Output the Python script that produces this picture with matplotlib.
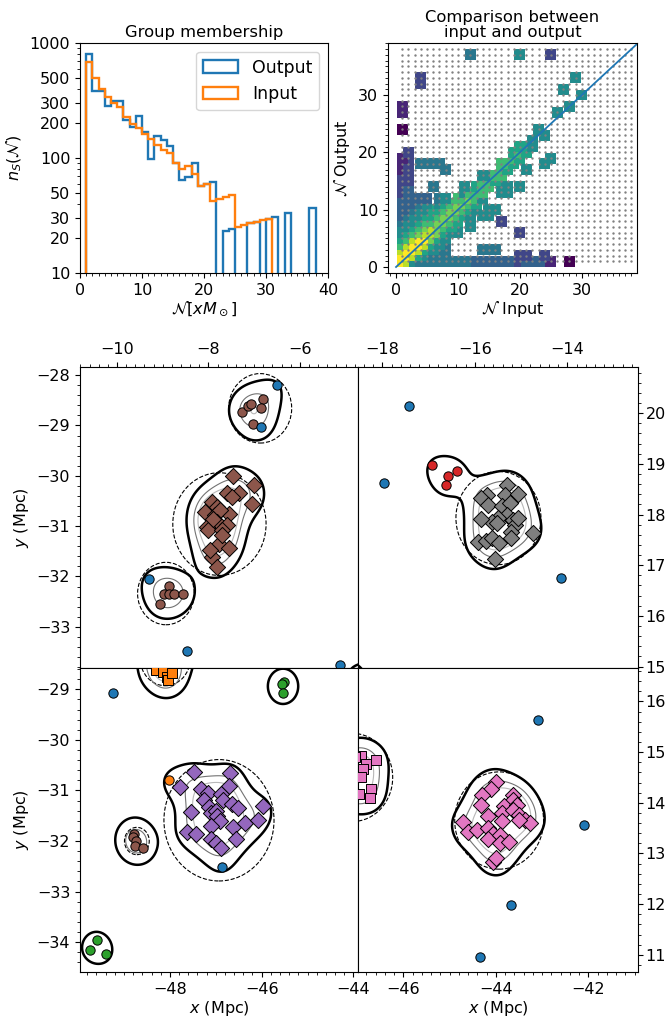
import numpy as np
import matplotlib
matplotlib.use('Agg')
import matplotlib.pyplot as plt
from matplotlib.ticker import MultipleLocator, NullFormatter
from matplotlib.patches import Circle

plt.rcParams['font.size'] = 11.5

# ---------------- group membership histogram ----------------
hist_edges_out = np.arange(1, 39)
n_output = [807, 380, 380, 285, 311, 311, 216, 185, 233, 169, 99, 154, 144, 127,
            91, 64, 68, 91, 57, 59, 62, 0, 23, 24, 0, 0, 27, 28, 0, 29.3, 31,
            0, 33, 0, 0, 0, 37]
hist_edges_in = np.arange(1, 32)
n_input = [677, 493, 397, 338, 299, 278, 228, 196, 181, 163, 145, 131, 118, 111,
           91, 80, 86, 73, 57, 60, 42, 44, 46, 48, 25, 26, 27.4, 28, 28.8, 29.2]

# ---------------- input/output comparison ----------------
Y, YG, LG, G, TG, T, TB, B, DB, P, D = 800, 400, 200, 100, 50, 25, 14, 8, 4, 2, 1
hm_x = [1, 2, 3, 4, 5, 6, 7, 8, 9, 10, 11, 12, 13, 14, 15, 16, 17, 18, 19, 20, 21, 22, 23, 24, 25, 28,   # y=1
        1, 2, 3, 4, 5, 6, 7, 8, 20, 21, 24,                                                             # y=2
        1, 2, 3, 4, 5, 6, 8, 14, 15, 16,                                                                 # y=3
        1, 2, 3, 4, 5, 6, 7,                                                                             # y=4
        1, 2, 3, 4, 5, 6, 7, 8,                                                                          # y=5
        1, 2, 3, 4, 5, 6, 7, 8, 9, 10, 20,                                                               # y=6
        1, 2, 3, 4, 5, 6, 7, 8, 9, 12,                                                                   # y=7
        1, 2, 3, 4, 5, 6, 7, 8, 9, 10, 12, 17,                                                           # y=8
        1, 2, 3, 4, 5, 6, 7, 8, 9, 10, 11, 12, 14, 15,                                                   # y=9
        1, 2, 3, 4, 5, 6, 7, 8, 9, 10, 11, 12, 13, 15, 16,                                               # y=10
        1, 2, 3, 4, 5, 7, 8, 9, 10, 11, 12, 13,                                                          # y=11
        1, 2, 3, 4, 5, 7, 8, 10, 11, 12, 13, 14,                                                         # y=12
        1, 2, 11, 12, 13, 14, 17, 18,                                                                    # y=13
        1, 2, 6, 11, 13, 14, 15, 17, 18, 20,                                                             # y=14
        1, 2, 14, 15, 16,                                                                                # y=15
        1, 2, 14, 15, 16, 17,                                                                            # y=16
        1, 2, 8, 17, 18, 21,                                                                             # y=17
        1, 2, 4, 5, 6, 7, 17, 18, 19, 24,                                                                # y=18
        1, 19, 20, 25,                                                                                   # y=19
        2, 19, 20, 21,                                                                                   # y=20
        20, 21, 22,                                                                                      # y=21
        22, 24, 1, 23, 1, 26, 1, 28, 30, 27, 4, 4, 29, 12, 20, 25]                                       # y>=22
hm_y = ([1] * 26 + [2] * 11 + [3] * 10 + [4] * 7 + [5] * 8 + [6] * 11 + [7] * 10 + [8] * 12 +
        [9] * 14 + [10] * 15 + [11] * 12 + [12] * 12 + [13] * 8 + [14] * 10 + [15] * 5 + [16] * 6 +
        [17] * 6 + [18] * 10 + [19] * 4 + [20] * 4 + [21] * 3 +
        [22, 23, 24, 24, 27, 27, 28, 28, 30, 31, 32, 33, 33, 37, 37, 37])
hm_n = [Y, YG, T, TB, TB, TB, TB, TB, TB, TB, TB, TB, B, B, B, B, B, B, B, DB, B, B, B, B, P, D,
        Y, Y, YG, TG, T, TB, TB, TB, DB, DB, DB,
        YG, Y, Y, YG, TG, T, TB, TB, TB, TB,
        G, YG, Y, Y, YG, TG, T,
        TG, G, YG, Y, Y, LG, TG, T,
        T, TG, G, LG, YG, YG, LG, TG, T, T, DB,
        T, T, TG, G, LG, YG, LG, G, TG, T,
        TB, T, T, TG, G, G, LG, LG, G, TG, T, DB,
        B, TB, T, T, TG, TG, G, LG, LG, G, TG, T, T, T,
        B, B, TB, T, T, TG, TG, G, LG, LG, G, TG, T, T, T,
        B, B, B, TB, T, T, TG, G, LG, LG, G, TG,
        B, B, B, B, B, TB, T, G, G, LG, G, T,
        DB, B, T, G, G, G, T, T,
        DB, B, TB, T, TG, G, G, T, T, T,
        DB, DB, G, G, TG,
        DB, DB, T, T, G, G,
        P, DB, TB, G, TG, T,
        P, DB, TB, TB, TB, TB, G, G, TG, T,
        P, G, TG, T,
        DB, TG, G, TG,
        TG, TG, T,
        T, T, D, T, P, T, P, T, T, T, DB, DB, T, TB, T, DB]
grid_vals = np.arange(1, 39)

# ---------------- zoomed sky panels ----------------
# top left
tl_field_x = [-6.51, -6.85, -9.29, -8.46, -5.13]
tl_field_y = [-28.20, -29.04, -32.06, -33.48, -33.76]
tl_a_x = [-7.27, -7.13, -7.08, -6.80, -6.84, -7.02]
tl_a_y = [-28.73, -28.62, -28.58, -28.48, -28.66, -28.97]
tl_b_x = [-7.47, -7.00, -7.33, -7.60, -7.04, -7.93, -8.07, -7.82, -7.56, -7.85, -7.75, -7.82,
          -8.04, -8.00, -7.60, -7.71, -7.78, -7.54, -7.93, -7.82, -7.71, -7.89, -7.49, -7.96]
tl_b_y = [-30.01, -30.19, -30.34, -30.34, -30.56, -30.52, -30.72, -30.62, -30.75, -30.78, -30.68, -30.91,
          -31.01, -31.08, -30.98, -31.08, -31.35, -31.44, -31.61, -31.81, -31.18, -30.85, -30.42, -31.48]
tl_c_x = [-8.87, -8.97, -8.87, -8.76, -8.55, -9.05]
tl_c_y = [-32.19, -32.34, -32.35, -32.34, -32.35, -32.55]
tl_edge_x = [-4.45, -4.55, -4.40]
tl_edge_y = [-34.00, -34.10, -34.12]
tl_circ_x = [-6.87, -7.76, -8.93]
tl_circ_y = [-28.66, -30.96, -32.34]
tl_circ_r = [0.69, 1.02, 0.62]

# top right
tr_field_x = [-17.43, -17.97, -14.14]
tr_field_y = [20.15, 18.62, 16.74]
tr_red_x = [-16.92, -16.58, -16.38, -16.63]
tr_red_y = [18.98, 18.76, 18.85, 18.59]
tr_gray_x = [-15.31, -15.73, -15.35, -15.06, -15.86, -15.71, -15.42, -15.24, -15.31, -15.49, -15.64, -15.86,
             -15.53, -15.17, -15.13, -15.06, -15.21, -15.21, -14.74, -15.94, -15.75, -15.64, -15.48, -15.57]
tr_gray_y = [18.59, 18.39, 18.39, 18.40, 18.32, 18.19, 18.16, 18.22, 17.99, 17.93, 17.86, 17.91,
             17.83, 17.89, 17.80, 17.94, 17.66, 17.53, 17.63, 17.45, 17.47, 17.53, 17.43, 17.12]
tr_edge_x = [-18.88, -18.93, -18.83, -18.75, -18.85, -18.65, -18.80]
tr_edge_y = [16.90, 16.82, 16.86, 14.70, 14.62, 14.66, 14.75]
tr_circ_x = [-15.49]
tr_circ_y = [17.93]
tr_circ_r = [0.92]

# bottom left
bl_field_x = [-49.24, -46.87]
bl_field_y = [-29.08, -32.51]
bl_orange_x = [-48.01]
bl_orange_y = [-30.79]
bl_sq_x = [-48.30, -48.15, -48.07, -48.05, -47.95, -48.20, -48.00, -48.40, -48.10, -47.20, -46.95]
bl_sq_y = [-28.62, -28.66, -28.75, -28.82, -28.68, -28.45, -28.35, -28.30, -28.20, -28.30, -28.25]
bl_green_x = [-45.52, -45.55, -45.53, -49.59, -49.75, -49.40]
bl_green_y = [-28.85, -28.90, -29.08, -33.96, -34.16, -34.24]
bl_brown_x = [-48.78, -48.80, -48.74, -48.76, -48.58]
bl_brown_y = [-31.87, -31.93, -32.00, -32.10, -32.13]
bl_purple_x = [-47.47, -46.69, -47.78, -46.71, -47.33, -47.16, -47.26, -46.89, -46.85, -46.65, -46.51, -45.96,
               -47.54, -47.14, -47.11, -47.00, -46.98, -46.91, -47.11, -46.62, -46.36, -46.09, -47.62, -47.43,
               -47.11, -47.00, -46.89, -46.56]
bl_purple_y = [-30.64, -30.66, -30.93, -30.91, -30.97, -31.06, -31.19, -31.08, -31.19, -31.26, -31.34, -31.31,
               -31.43, -31.32, -31.44, -31.41, -31.51, -31.61, -31.70, -31.72, -31.64, -31.59, -31.82, -31.87,
               -31.97, -32.03, -32.13, -31.96]
bl_circ_x = [-46.93, -48.72, -48.10]
bl_circ_y = [-31.59, -32.00, -28.38]
bl_circ_r = [1.20, 0.27, 0.55]

# bottom right
br_field_x = [-43.10, -42.10, -43.67, -44.34]
br_field_y = [15.63, 13.56, 11.98, 10.95]
br_sq_x = [-46.92, -46.81, -46.59, -46.88, -46.92, -46.70, -46.95, -46.72,
           -47.05, -47.20, -47.35, -47.15, -47.40, -47.10]
br_sq_y = [14.92, 14.76, 14.84, 14.66, 14.50, 14.27, 14.17, 14.10,
           14.90, 14.60, 14.30, 14.20, 14.75, 14.45]
br_pink_x = [-44.00, -44.11, -44.29, -43.64, -44.32, -43.63, -43.82, -43.55, -44.18, -43.86, -43.64, -43.50,
             -43.37, -43.86, -44.71, -44.61, -44.40, -44.16, -44.07, -44.18, -43.91, -43.91, -43.71, -44.07,
             -43.99, -43.26, -43.51]
br_pink_y = [14.41, 14.27, 14.15, 14.15, 13.96, 14.05, 13.94, 13.95, 13.74, 13.80, 13.86, 13.75,
             13.67, 13.64, 13.63, 13.43, 13.47, 13.51, 13.39, 13.28, 13.37, 13.20, 13.22, 12.83,
             12.91, 13.61, 13.66]
br_circ_x = [-43.93, -47.10]
br_circ_y = [13.65, 14.50]
br_circ_r = [0.96, 0.87]


fig = plt.figure(figsize=(6.67, 10.21), dpi=100)

# histogram
ax1 = fig.add_axes([0.1199, 0.7326, 0.3718, 0.2253])
ax1.hist(hist_edges_out[:-1], bins=hist_edges_out, weights=n_output, histtype='step',
         color='C0', lw=1.7, label='Output')
ax1.hist(hist_edges_in[:-1], bins=hist_edges_in, weights=n_input, histtype='step',
         color='C1', lw=1.7, label='Input')
ax1.set_yscale('log')
ax1.set_ylim(10, 1000)
ax1.set_xlim(0, 40)
ax1.set_yticks([10, 20, 30, 50, 100, 200, 300, 500, 1000])
ax1.set_yticklabels(['10', '20', '30', '50', '100', '200', '300', '500', '1000'])
ax1.yaxis.set_minor_formatter(NullFormatter())
ax1.xaxis.set_minor_locator(MultipleLocator(1))
ax1.set_title('Group membership', fontsize=11.8, pad=4)
ax1.set_ylabel(r'$n_S(\mathcal{N})$')
ax1.set_xlabel(r'$\mathcal{N}[xM_\odot]$', labelpad=1)
ax1.legend(loc='upper right', fontsize=12.5, handlelength=2.0)

# comparison
ax2 = fig.add_axes([0.5817, 0.7326, 0.3733, 0.2253])
ax2.scatter(hm_x, hm_y, c=np.log10(hm_n), cmap='viridis', vmin=0, vmax=np.log10(800),
            marker='s', s=62, linewidths=0)
gx, gy = np.meshgrid(grid_vals, grid_vals)
ax2.scatter(gx.ravel(), gy.ravel(), s=3, c='gray', linewidths=0)
ax2.plot([0, 40], [0, 40], color='C0', lw=1.3)
ax2.set_xlim(-1.3, 38.9)
ax2.set_ylim(-1.05, 39.07)
ax2.set_xticks([0, 10, 20, 30])
ax2.set_yticks([0, 10, 20, 30])
ax2.xaxis.set_minor_locator(MultipleLocator(1))
ax2.yaxis.set_minor_locator(MultipleLocator(1))
ax2.set_title('Comparison between\ninput and output', fontsize=11.8, pad=4, linespacing=1.0)
ax2.set_xlabel(r'$\mathcal{N}$ Input', labelpad=1)
ax2.set_ylabel(r'$\mathcal{N}$ Output')


def density(px, py, xx, yy, sigma=0.3):
    d = np.zeros_like(xx)
    for x0, y0 in zip(px, py):
        d += np.exp(-((xx - x0) ** 2 + (yy - y0) ** 2) / (2 * sigma ** 2))
    return d


def sky_panel(ax, xlim, ylim, groups, fx, fy, cx, cy, cr):
    px = list(fx)
    py = list(fy)
    for xs, ys, mk, col in groups:
        px += list(xs)
        py += list(ys)
    xx, yy = np.meshgrid(np.linspace(xlim[0] - 1.5, xlim[1] + 1.5, 320),
                         np.linspace(ylim[0] - 1.5, ylim[1] + 1.5, 320))
    dd = density(px, py, xx, yy)
    ax.contour(xx, yy, dd, levels=[1.55], colors='k', linewidths=1.8)
    ax.contour(xx, yy, dd, levels=[3.5, 5.0], colors=['0.45', '0.72'], linewidths=0.8)
    for x0, y0, r in zip(cx, cy, cr):
        ax.add_patch(Circle((x0, y0), r, fill=False, ls='--', lw=0.8, ec='k'))
    for xs, ys, mk, col in groups:
        size = {'o': 45, 'D': 68, 's': 45}[mk]
        ax.scatter(xs, ys, marker=mk, c=col, s=size, edgecolors='k', linewidths=0.7, zorder=3)
    ax.scatter(fx, fy, marker='o', c='C0', s=45, edgecolors='k', linewidths=0.7, zorder=3)
    ax.set_xlim(xlim)
    ax.set_ylim(ylim)
    ax.xaxis.set_minor_locator(MultipleLocator(0.2))
    ax.yaxis.set_minor_locator(MultipleLocator(0.2))


ax3 = fig.add_axes([0.1199, 0.3457, 0.4168, 0.2948])
sky_panel(ax3, (-10.81, -4.73), (-33.82, -27.84),
          [(tl_a_x, tl_a_y, 'o', 'C5'), (tl_b_x, tl_b_y, 'D', 'C5'),
           (tl_c_x, tl_c_y, 'o', 'C5'), (tl_edge_x, tl_edge_y, 'o', 'C2')],
          tl_field_x, tl_field_y, tl_circ_x, tl_circ_y, tl_circ_r)
ax3.xaxis.tick_top()
ax3.set_xticks([-10, -8, -6])
ax3.set_ylabel(r'$y$ (Mpc)')

ax4 = fig.add_axes([0.5367, 0.3457, 0.4198, 0.2948])
sky_panel(ax4, (-18.53, -12.47), (14.97, 20.91),
          [(tr_red_x, tr_red_y, 'o', 'C3'), (tr_gray_x, tr_gray_y, 'D', 'C7'),
           (tr_edge_x, tr_edge_y, 'o', 'C2')],
          tr_field_x, tr_field_y, tr_circ_x, tr_circ_y, tr_circ_r)
ax4.xaxis.tick_top()
ax4.yaxis.tick_right()
ax4.tick_params(axis='y', which='major', pad=2)
ax4.set_xticks([-18, -16, -14])
ax4.set_yticks([15, 16, 17, 18, 19, 20])

ax5 = fig.add_axes([0.1199, 0.048, 0.4168, 0.2977])
sky_panel(ax5, (-49.96, -43.9), (-34.59, -28.58),
          [(bl_sq_x, bl_sq_y, 's', 'C1'), (bl_orange_x, bl_orange_y, 'o', 'C1'),
           (bl_green_x, bl_green_y, 'o', 'C2'), (bl_brown_x, bl_brown_y, 'o', 'C5'),
           (bl_purple_x, bl_purple_y, 'D', 'C4')],
          bl_field_x, bl_field_y, bl_circ_x, bl_circ_y, bl_circ_r)
ax5.set_xticks([-48, -46, -44])
ax5.set_yticks([-34, -33, -32, -31, -30, -29])
ax5.set_xlabel(r'$x$ (Mpc)', labelpad=2)
ax5.set_ylabel(r'$y$ (Mpc)')

ax6 = fig.add_axes([0.5367, 0.048, 0.4198, 0.2977])
sky_panel(ax6, (-46.98, -40.93), (10.66, 16.66),
          [(br_sq_x, br_sq_y, 's', 'C6'), (br_pink_x, br_pink_y, 'D', 'C6')],
          br_field_x, br_field_y, br_circ_x, br_circ_y, br_circ_r)
ax6.yaxis.tick_right()
ax6.tick_params(axis='y', which='major', pad=2)
ax6.set_xticks([-46, -44, -42])
ax6.set_yticks([11, 12, 13, 14, 15, 16])
ax6.set_xlabel(r'$x$ (Mpc)', labelpad=2)

fig.savefig('out.png', dpi=100)
